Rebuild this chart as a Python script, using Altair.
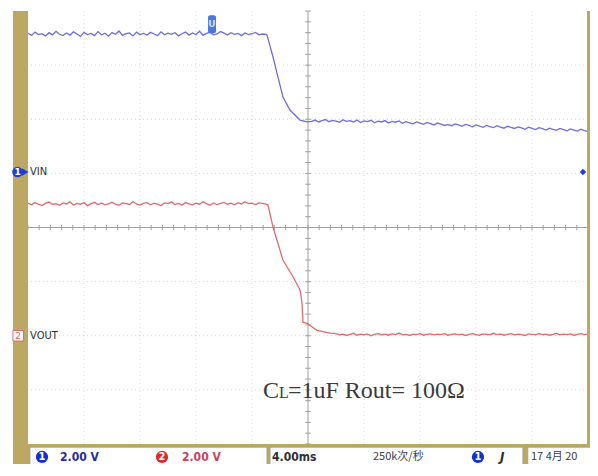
import altair as alt
import pandas as pd

# ---- data (time in ms, 4 ms/div, centre = 0 ; voltage in V, 2 V/div) ----
vin_pre_t = [-20.0 + 0.25 * i for i in range(69)]
vin_pre_v = [5.18, 5.10, 5.22, 5.13, 5.16, 5.08, 5.20, 5.12, 5.25, 5.14, 5.09, 5.19, 5.11, 5.23, 5.15, 5.06, 5.21, 5.13, 5.17, 5.09,
             5.24, 5.12, 5.18, 5.07, 5.20, 5.14, 5.26, 5.10, 5.16, 5.19, 5.08, 5.22, 5.13, 5.17, 5.11, 5.21, 5.15, 5.09, 5.23, 5.12,
             5.18, 5.14, 5.20, 5.08, 5.16, 5.22, 5.11, 5.19, 5.13, 5.25, 5.10, 5.17, 5.21, 5.12, 5.15, 5.24, 5.18, 5.11, 5.20, 5.14,
             5.17, 5.09, 5.19, 5.13, 5.16, 5.21, 5.12, 5.15, 5.14]
vin_drop_t = [-2.93, -2.5, -1.79, -1.29, -0.57, -0.07]
vin_drop_v = [5.12, 4.30, 2.82, 2.34, 1.97, 1.90]
vin_post_t = [0.25 + 0.25 * i for i in range(80)]
vin_post_v = [1.92, 1.97, 1.90, 1.95, 1.99, 1.91, 1.96, 1.93, 1.89, 1.98, 1.92, 1.95, 1.90, 1.97, 1.88, 1.94, 1.91, 1.96, 1.87, 1.93,
              1.90, 1.95, 1.86, 1.92, 1.89, 1.94, 1.85, 1.91, 1.87, 1.83, 1.90, 1.86, 1.81, 1.88, 1.84, 1.79, 1.86, 1.82, 1.77, 1.80,
              1.76, 1.83, 1.79, 1.74, 1.81, 1.77, 1.72, 1.79, 1.75, 1.70, 1.77, 1.73, 1.69, 1.76, 1.71, 1.67, 1.74, 1.70, 1.66, 1.72,
              1.68, 1.63, 1.71, 1.66, 1.62, 1.69, 1.65, 1.60, 1.67, 1.63, 1.59, 1.66, 1.62, 1.57, 1.64, 1.60, 1.56, 1.63, 1.58, 1.55]

vout_pre_t = [-20.0 + 0.25 * i for i in range(69)]
vout_pre_v = [4.90, 4.84, 4.92, 4.86, 4.81, 4.89, 4.94, 4.85, 4.88, 4.82, 4.91, 4.87, 4.95, 4.83, 4.89, 4.86, 4.92, 4.80, 4.88, 4.93,
              4.85, 4.90, 4.84, 4.87, 4.93, 4.86, 4.82, 4.91, 4.88, 4.85, 4.96, 4.87, 4.83, 4.89, 4.92, 4.84, 4.90, 4.86, 4.81, 4.91,
              4.88, 4.94, 4.85, 4.89, 4.83, 4.92, 4.87, 4.84, 4.90, 4.86, 4.95, 4.88, 4.82, 4.91, 4.85, 4.89, 4.93, 4.86, 4.90, 4.84,
              4.92, 4.87, 4.95, 4.88, 4.90, 4.85, 4.91, 4.89, 4.86]
vout_drop_t = [-2.86, -2.5, -1.79, -1.07, -0.57, -0.43, -0.36, -0.07, 0.64, 1.57]
vout_drop_v = [4.83, 4.02, 2.80, 2.18, 1.69, 1.22, 0.50, 0.46, 0.20, 0.10]
vout_post_t = [2.0 + 0.25 * i for i in range(73)]
vout_post_v = [0.08, 0.03, 0.06, 0.01, 0.05, 0.09, 0.02, 0.06, 0.03, 0.07, 0.00, 0.05, 0.08, 0.03, 0.06, 0.02, 0.07, 0.04, 0.10, 0.03,
               0.05, 0.01, 0.06, 0.04, 0.08, 0.02, 0.05, 0.07, 0.03, 0.06, 0.04, 0.08, 0.02, 0.05, 0.07, 0.03, 0.06, 0.01, 0.05, 0.08,
               0.04, 0.02, 0.07, 0.05, 0.03, 0.09, 0.04, 0.06, 0.02, 0.05, 0.08, 0.03, 0.06, 0.04, 0.01, 0.07, 0.05, 0.03, 0.08, 0.04,
               0.06, 0.02, 0.05, 0.09, 0.03, 0.06, 0.04, 0.07, 0.02, 0.05, 0.08, 0.04, 0.06]

CH1_OFFSET = 1.0    # divisions
CH2_OFFSET = -2.0   # divisions
VOLTS_PER_DIV = 2.0

grid_t = [-16, -12, -8, -4, 4, 8, 12, 16]
grid_y = [-3, -2, -1, 1, 2, 3]

# ---- frames ----
vin = pd.DataFrame({"t": vin_pre_t + vin_drop_t + vin_post_t,
                    "v": vin_pre_v + vin_drop_v + vin_post_v})
vin["y"] = CH1_OFFSET + vin["v"] / VOLTS_PER_DIV
vout = pd.DataFrame({"t": vout_pre_t + vout_drop_t + vout_post_t,
                     "v": vout_pre_v + vout_drop_v + vout_post_v})
vout["y"] = CH2_OFFSET + vout["v"] / VOLTS_PER_DIV

X = alt.Scale(domain=[-20, 20], nice=False, zero=False)
Y = alt.Scale(domain=[-4, 4], nice=False, zero=False)

def xq(f="t"):
    return alt.X(f"{f}:Q", scale=X, axis=None)

def yq(f="y"):
    return alt.Y(f"{f}:Q", scale=Y, axis=None)

layers = []

# dotted grid
layers.append(alt.Chart(pd.DataFrame({"t": grid_t})).mark_rule(
    color="#d6d6d6", strokeDash=[1, 3], strokeWidth=1).encode(x=xq()))
layers.append(alt.Chart(pd.DataFrame({"y": grid_y})).mark_rule(
    color="#d6d6d6", strokeDash=[1, 3], strokeWidth=1).encode(y=yq()))

# centre cross with minor ticks
layers.append(alt.Chart(pd.DataFrame({"t": [0]})).mark_rule(color="#a0a0a0").encode(x=xq()))
layers.append(alt.Chart(pd.DataFrame({"y": [0]})).mark_rule(color="#a0a0a0").encode(y=yq()))
hticks = pd.DataFrame({"t": [-20 + 0.8 * i for i in range(51)], "y": [-0.05] * 51, "y2": [0.05] * 51})
layers.append(alt.Chart(hticks).mark_rule(color="#a0a0a0").encode(x=xq(), y=yq(), y2="y2:Q"))
vticks = pd.DataFrame({"y": [-4 + 0.2 * i for i in range(41)], "t": [-0.2] * 41, "t2": [0.2] * 41})
layers.append(alt.Chart(vticks).mark_rule(color="#a0a0a0").encode(y=yq(), x=xq(), x2="t2:Q"))

# traces
layers.append(alt.Chart(vin).mark_line(color="#6e6ee0", strokeWidth=1.3).encode(x=xq(), y=yq()))
layers.append(alt.Chart(vout).mark_line(color="#e06b6b", strokeWidth=1.3).encode(x=xq(), y=yq()))

TAN = "#bca862"
# left bar, right border, status bar frame
frame = pd.DataFrame({
    "t": [-21.07, 19.93, -21.07],
    "t2": [-20.0, 20.15, 20.3],
    "y": [4.0, 4.0, -4.0],
    "y2": [-4.45, -4.0, -4.45],
})
layers.append(alt.Chart(frame).mark_rect(color=TAN).encode(x=xq(), x2="t2:Q", y=yq(), y2="y2:Q"))
boxes = pd.DataFrame({
    "t": [-19.86, -2.71, 15.7],
    "t2": [-2.93, 15.35, 20.3],
    "y": [-4.06, -4.06, -4.06],
    "y2": [-4.42, -4.45, -4.45],
})
layers.append(alt.Chart(boxes).mark_rect(color="white", stroke="#9a9a9a", strokeWidth=0.8).encode(
    x=xq(), x2="t2:Q", y=yq(), y2="y2:Q"))

# trigger marker at top
layers.append(alt.Chart(pd.DataFrame({"t": [-7.14], "t2": [-6.57], "y": [3.92], "y2": [3.59]})).mark_rect(
    color="#4a78e0", cornerRadius=2).encode(x=xq(), x2="t2:Q", y=yq(), y2="y2:Q"))
layers.append(alt.Chart(pd.DataFrame({"t": [-6.86], "y": [3.76], "s": ["U"]})).mark_text(
    color="#cfe0ff", fontSize=9, fontWeight="bold", font="DejaVu Sans").encode(x=xq(), y=yq(), text="s:N"))

# channel markers at the left
layers.append(alt.Chart(pd.DataFrame({"t": [-20.75], "y": [1.025]})).mark_point(
    shape="circle", filled=True, color="#1f3fd0", size=110, opacity=1).encode(x=xq(), y=yq()))
layers.append(alt.Chart(pd.DataFrame({"t": [-20.2], "y": [1.025]})).mark_point(
    shape="triangle-right", filled=True, color="#1f3fd0", size=60, opacity=1).encode(x=xq(), y=yq()))
layers.append(alt.Chart(pd.DataFrame({"t": [-20.75], "y": [1.025], "s": ["1"]})).mark_text(
    color="white", fontSize=9, fontWeight="bold", font="DejaVu Sans").encode(x=xq(), y=yq(), text="s:N"))
layers.append(alt.Chart(pd.DataFrame({"t": [-20.7], "y": [-2.0]})).mark_point(
    shape="square", filled=True, color="white", stroke="#e06b6b", strokeWidth=1, size=110, opacity=1).encode(
    x=xq(), y=yq()))
layers.append(alt.Chart(pd.DataFrame({"t": [-20.7], "y": [-2.0], "s": ["2"]})).mark_text(
    color="#e06b6b", fontSize=9, font="DejaVu Sans").encode(x=xq(), y=yq(), text="s:N"))
labels = pd.DataFrame({"t": [-19.85, -19.85], "y": [1.025, -2.0], "s": ["VIN", "VOUT"]})
layers.append(alt.Chart(labels).mark_text(
    align="left", color="#303030", fontSize=11, font="Liberation Sans Narrow, DejaVu Sans Condensed, sans-serif").encode(
    x=xq(), y=yq(), text="s:N"))

# trigger level marker right
layers.append(alt.Chart(pd.DataFrame({"t": [19.64], "y": [1.025]})).mark_point(
    shape="diamond", filled=True, color="#1f3fd0", size=40, opacity=1).encode(x=xq(), y=yq()))

# annotation
ann = pd.DataFrame({"t": [-3.21, -2.07, -1.43], "y": [-3.15, -3.15, -3.15],
                    "s": ["C", "L", "=1uF Rout= 100\u03a9"], "fs": [24, 16, 24]})
layers.append(alt.Chart(ann).mark_text(
    align="left", baseline="alphabetic", color="#3a3a3a", font="Liberation Serif").encode(
    x=xq(), y=yq(), text="s:N", size=alt.Size("fs:Q", scale=None, legend=None)))

# status bar badges
badges = pd.DataFrame({"t": [-19.0, -10.43, 12.14], "y": [-4.24, -4.24, -4.24],
                       "c": ["#1030d0", "#e02828", "#1030d0"], "s": ["1", "2", "1"]})
layers.append(alt.Chart(badges).mark_point(shape="circle", filled=True, size=150, opacity=1).encode(
    x=xq(), y=yq(), color=alt.Color("c:N", scale=None)))
layers.append(alt.Chart(badges).mark_text(color="white", fontSize=10, fontWeight="bold",
                                          font="DejaVu Sans").encode(x=xq(), y=yq(), text="s:N"))

status = pd.DataFrame({
    "t": [-17.71, -9.0, -2.57],
    "y": [-4.24] * 3,
    "s": ["2.00 V", "2.00 V", "4.00ms"],
    "c": ["#2a2aa0", "#d0405a", "#303030"],
})
layers.append(alt.Chart(status).mark_text(
    align="left", fontSize=12, fontWeight="bold",
    font="Liberation Sans Narrow, DejaVu Sans Condensed, sans-serif").encode(
    x=xq(), y=yq(), text="s:N", color=alt.Color("c:N", scale=None)))
layers.append(alt.Chart(pd.DataFrame({"t": [13.71], "y": [-4.24], "s": ["J"]})).mark_text(
    align="left", fontSize=12, fontWeight="bold", fontStyle="italic", color="#303030",
    font="DejaVu Sans").encode(x=xq(), y=yq(), text="s:N"))
cjk = pd.DataFrame({"t": [4.64, 15.93], "y": [-4.24, -4.24], "s": ["250k次/秒", "17 4月 20"]})
layers.append(alt.Chart(cjk).mark_text(
    align="left", fontSize=11, color="#404040", font="Noto Sans CJK SC").encode(
    x=xq(), y=yq(), text="s:N"))

chart = alt.layer(*layers).properties(
    width=560, height=433,
    padding={"left": 20, "top": 3, "right": 2, "bottom": 20},
    autosize=alt.AutoSizeParams(type="none"),
    background="white",
).configure_view(stroke=None)

chart.save("out.html", embed_options={"renderer": "svg", "actions": False})
